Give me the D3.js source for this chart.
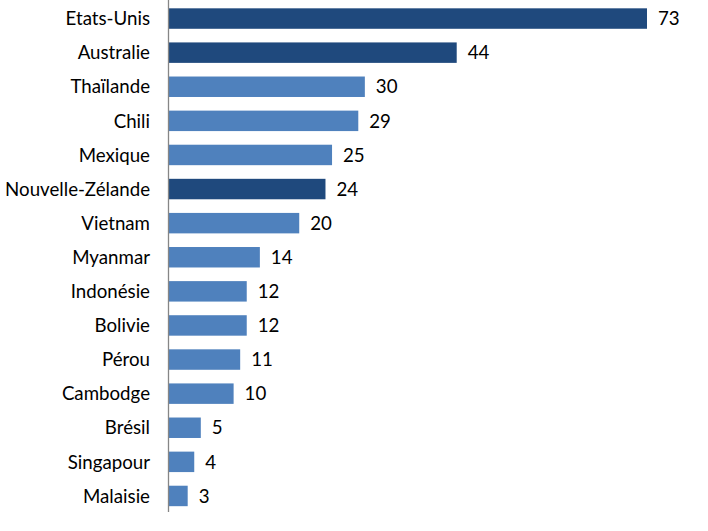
<!DOCTYPE html>
<html><head><meta charset="utf-8">
<script src="https://cdn.jsdelivr.net/npm/d3@7"></script>
<style>body{margin:0;background:#fff}svg{display:block}text{font-family:Lato,"Open Sans",sans-serif;font-size:18.7px;fill:#000}</style>
</head><body>
<svg id="c" width="708" height="531"></svg>
<script>
const categories = ["Etats-Unis","Australie","Thaïlande","Chili","Mexique","Nouvelle-Zélande","Vietnam","Myanmar","Indonésie","Bolivie","Pérou","Cambodge","Brésil","Singapour","Malaisie"];
const values = [73,44,30,29,25,24,20,14,12,12,11,10,5,4,3];
const highlighted = ["Etats-Unis","Australie","Nouvelle-Zélande"];

const svg = d3.select("#c");
const x0 = 168;
const x = d3.scaleLinear().domain([0,73]).range([x0,647]);
const y = d3.scaleBand().domain(categories).range([1.5,513]).paddingInner(0.4).paddingOuter(0.2);
const data = categories.map((c,i)=>({c,v:values[i]}));

svg.selectAll("rect.bar").data(data).join("rect")
  .attr("x",x(0)).attr("y",d=>y(d.c)).attr("height",y.bandwidth())
  .attr("width",d=>x(d.v)-x(0))
  .attr("fill",d=>highlighted.includes(d.c)?"#1F497D":"#4F81BD");

svg.selectAll("text.val").data(data).join("text")
  .attr("x",d=>x(d.v)+11).attr("y",d=>y(d.c)+y.bandwidth()/2)
  .attr("dy","0.36em").text(d=>d.v);

const axis = d3.axisLeft(y).tickSize(0).tickPadding(18);
const g = svg.append("g").attr("transform",`translate(${x0},0)`).call(axis);
g.select(".domain").remove();
g.selectAll("text").style("font-size","18.7px").style("font-family","Lato,'Open Sans',sans-serif").attr("fill","#000").attr("dy","0.36em");
svg.append("line").attr("x1",x0+0.5).attr("x2",x0+0.5).attr("y1",0).attr("y2",512).attr("stroke","#868686").attr("stroke-width",1.3);
</script>
</body></html>
